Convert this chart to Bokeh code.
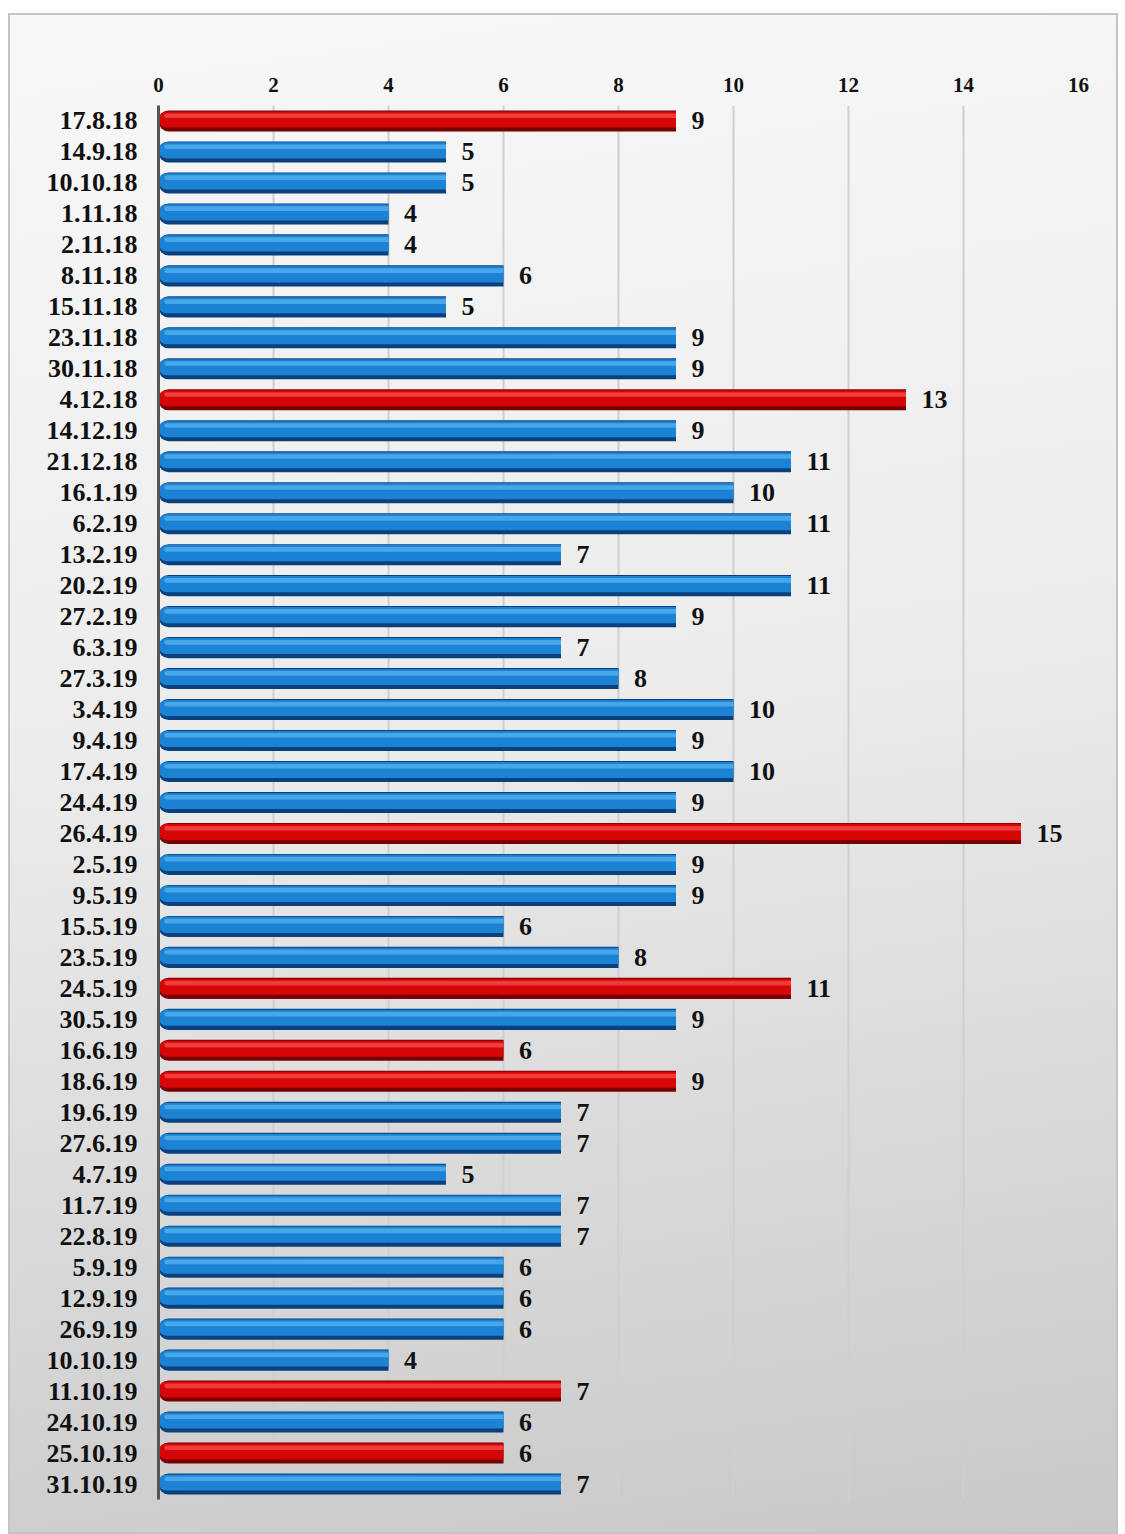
from bokeh.plotting import figure
from bokeh.models import FactorRange, ColumnDataSource, LabelSet
from bokeh.transform import dodge
from bokeh.core.properties import value
from bokeh.embed import file_html
from bokeh.resources import INLINE

dates = ["17.8.18", "14.9.18", "10.10.18", "1.11.18", "2.11.18", "8.11.18", "15.11.18",
         "23.11.18", "30.11.18", "4.12.18", "14.12.19", "21.12.18", "16.1.19", "6.2.19",
         "13.2.19", "20.2.19", "27.2.19", "6.3.19", "27.3.19", "3.4.19", "9.4.19",
         "17.4.19", "24.4.19", "26.4.19", "2.5.19", "9.5.19", "15.5.19", "23.5.19",
         "24.5.19", "30.5.19", "16.6.19", "18.6.19", "19.6.19", "27.6.19", "4.7.19",
         "11.7.19", "22.8.19", "5.9.19", "12.9.19", "26.9.19", "10.10.19", "11.10.19",
         "24.10.19", "25.10.19", "31.10.19"]
values = [9, 5, 5, 4, 4, 6, 5, 9, 9, 13, 9, 11, 10, 11, 7, 11, 9, 7, 8, 10, 9, 10, 9,
          15, 9, 9, 6, 8, 11, 9, 6, 9, 7, 7, 5, 7, 7, 6, 6, 6, 4, 7, 6, 6, 7]
highlighted = ["17.8.18", "4.12.18", "26.4.19", "24.5.19", "16.6.19", "18.6.19",
               "11.10.19", "25.10.19"]
x_ticks = [0, 2, 4, 6, 8, 10, 12, 14, 16]

is_red = [d in highlighted for d in dates]
dark = ["#780000" if r else "#0a417c" for r in is_red]
mid = ["#d60606" if r else "#1c82d4" for r in is_red]
light = ["#ff6060" if r else "#66bff5" for r in is_red]

src = ColumnDataSource(dict(date=dates, val=values, dark=dark, mid=mid, light=light,
                            lab=[str(v) for v in values],
                            lx=[v + 0.27 for v in values]))

W, H = 1110, 1521
p = figure(width=W, height=H, output_backend="svg", toolbar_location=None,
           y_range=FactorRange(factors=list(reversed(dates)), range_padding=0),
           x_range=(0, 16), x_axis_location="above",
           min_border_left=148, min_border_right=42, min_border_top=90,
           min_border_bottom=37)
p.background_fill_alpha = 0
p.border_fill_alpha = 0
p.outline_line_color = None
p.styles = {"margin-left": "8px", "margin-top": "13px",
            "background": "linear-gradient(172deg, #f8f8f8 0%, #ececec 45%, #c8c8c8 100%)",
            "border": "2px solid #c4c4c4", "box-sizing": "border-box"}

# grid
p.xgrid.ticker = x_ticks
p.xgrid.grid_line_color = "#cfcfcf"
p.xgrid.grid_line_width = 2
p.ygrid.grid_line_color = None

# x axis (top)
p.xaxis.ticker = x_ticks
p.xaxis.axis_line_color = None
p.xaxis.major_tick_line_color = None
p.xaxis.minor_tick_line_color = None
p.xaxis.major_label_text_font = "Liberation Serif"
p.xaxis.major_label_text_font_style = "bold"
p.xaxis.major_label_text_font_size = "21px"
p.xaxis.major_label_text_color = "#111111"
p.xaxis.major_label_standoff = 8

# y axis
p.yaxis.axis_line_color = "#555555"
p.yaxis.axis_line_width = 3
p.yaxis.major_tick_line_color = None
p.yaxis.minor_tick_line_color = None
p.yaxis.major_label_text_font = "Liberation Serif"
p.yaxis.major_label_text_font_style = "bold"
p.yaxis.major_label_text_font_size = "26px"
p.yaxis.major_label_text_color = "#111111"
p.yaxis.major_label_standoff = 15

# bars (layered for a cylindrical look)
p.hbar(y="date", left=0, right="val", height=0.68, source=src,
       fill_color="dark", line_color=None, border_radius=[10, 0, 0, 10])
p.hbar(y=dodge("date", 0.05, range=p.y_range), left=0, right="val", height=0.52,
       source=src, fill_color="mid", line_color=None, border_radius=[9, 0, 0, 9])
p.hbar(y=dodge("date", 0.17, range=p.y_range), left=0.1, right="val", height=0.15,
       source=src, fill_color="light", fill_alpha=0.6, line_color=None,
       border_radius=[4, 0, 0, 4])

labels = LabelSet(x="lx", y="date", text="lab", source=src,
                  text_font=value("Liberation Serif"), text_font_style="bold",
                  text_font_size="26px", text_color="#111111",
                  text_baseline="middle", text_align="left")
p.add_layout(labels)

open("out.html", "w").write(file_html(p, INLINE))
